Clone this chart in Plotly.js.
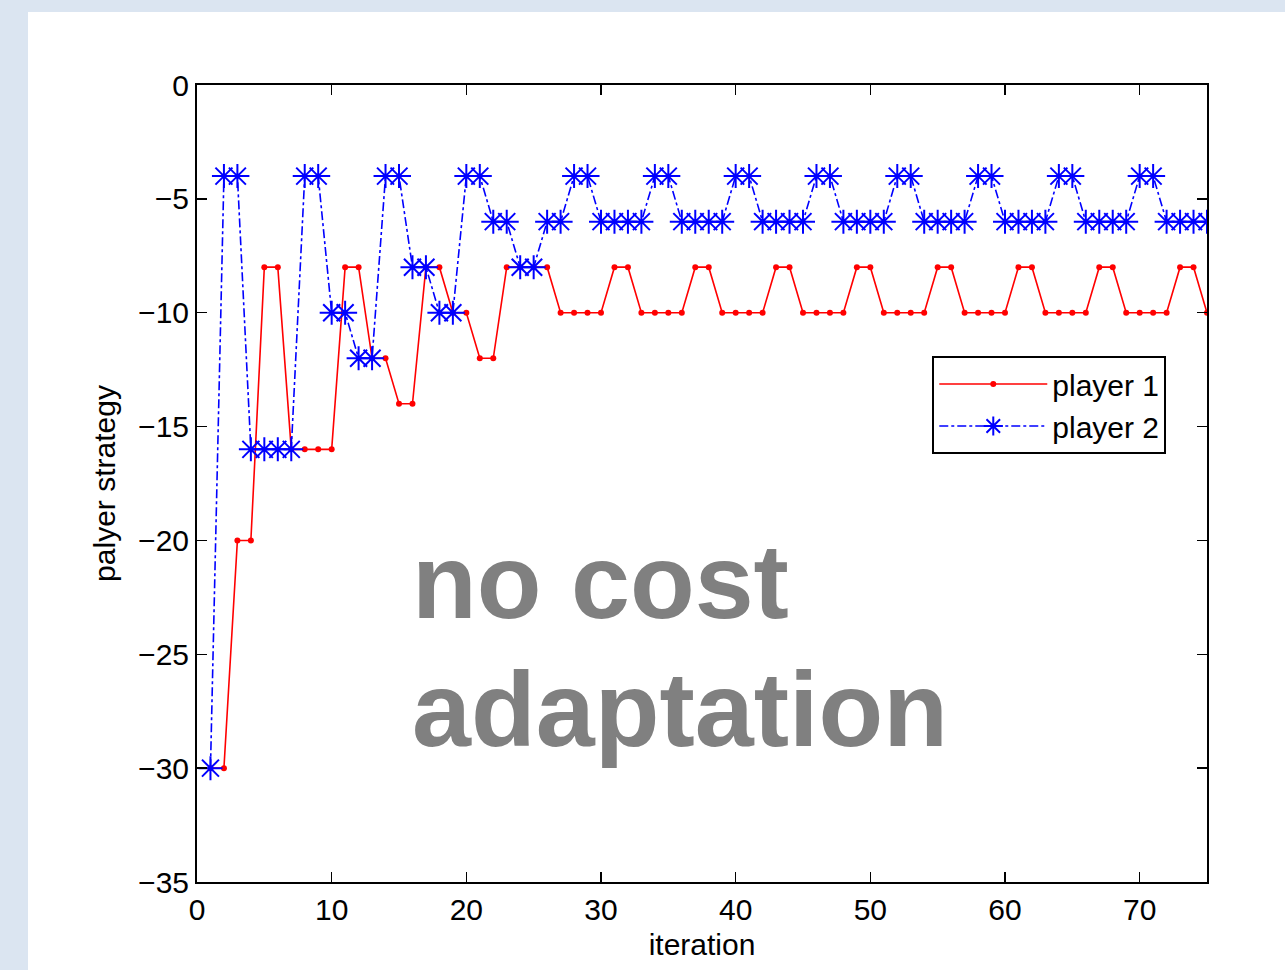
<!DOCTYPE html>
<html>
<head>
<meta charset="utf-8">
<script src="https://cdn.plot.ly/plotly-3.0.1.min.js"></script>
<style>
html,body{margin:0;padding:0;background:#dbe5f1;width:1285px;height:970px;overflow:hidden;}
#chart{position:absolute;left:28px;top:12px;width:1257px;height:958px;background:#fff;}
</style>
</head>
<body>
<div id="chart"></div>
<script>
const iterations = [1,2,3,4,5,6,7,8,9,10,11,12,13,14,15,16,17,18,19,20,21,22,23,24,25,26,27,28,29,30,31,32,33,34,35,36,37,38,39,40,41,42,43,44,45,46,47,48,49,50,51,52,53,54,55,56,57,58,59,60,61,62,63,64,65,66,67,68,69,70,71,72,73,74,75];
const player1 = [-30,-30,-20,-20,-8,-8,-16,-16,-16,-16,-8,-8,-12,-12,-14,-14,-8,-8,-10,-10,-12,-12,-8,-8,-8,-8,-10,-10,-10,-10,-8,-8,-10,-10,-10,-10,-8,-8,-10,-10,-10,-10,-8,-8,-10,-10,-10,-10,-8,-8,-10,-10,-10,-10,-8,-8,-10,-10,-10,-10,-8,-8,-10,-10,-10,-10,-8,-8,-10,-10,-10,-10,-8,-8,-10];
const player2 = [-30,-4,-4,-16,-16,-16,-16,-4,-4,-10,-10,-12,-12,-4,-4,-8,-8,-10,-10,-4,-4,-6,-6,-8,-8,-6,-6,-4,-4,-6,-6,-6,-6,-4,-4,-6,-6,-6,-6,-4,-4,-6,-6,-6,-6,-4,-4,-6,-6,-6,-6,-4,-4,-6,-6,-6,-6,-4,-4,-6,-6,-6,-6,-4,-4,-6,-6,-6,-6,-4,-4,-6,-6,-6,-6];
const seriesNames = ['player 1','player 2'];
const xTicks = [0,10,20,30,40,50,60,70];
const yTicks = [0,-5,-10,-15,-20,-25,-30,-35];
const overlayLines = ['no cost','adaptation'];
const xTitle = 'iteration';
const yTitle = 'palyer strategy';

const font = 'Liberation Sans, Arial, sans-serif';
const traces = [
  {x: iterations, y: player1, name: seriesNames[0], type: 'scatter', mode: 'lines+markers',
   line: {color: '#ff0000', width: 1.6}, marker: {color: '#ff0000', size: 6, symbol: 'circle'}},
  {x: iterations, y: player2, name: seriesNames[1], type: 'scatter', mode: 'lines+markers',
   line: {color: '#0000ff', width: 1.6, dash: 'dashdot'},
   marker: {color: '#0000ff', size: 20, symbol: 'asterisk-open', line: {color: '#0000ff', width: 2}}}
];
const axisCommon = {
  showline: true, linecolor: '#000', linewidth: 2, mirror: 'allticks',
  ticks: 'inside', ticklen: 10, tickwidth: 1.5, tickcolor: '#000',
  showgrid: false, zeroline: false,
  tickfont: {family: font, size: 30, color: '#000'}
};
const layout = {
  width: 1257, height: 958,
  margin: {l: 169, r: 78, t: 73, b: 88},
  paper_bgcolor: '#ffffff', plot_bgcolor: '#ffffff',
  font: {family: font, color: '#000'},
  showlegend: true,
  legend: {x: 0.728, y: 0.66, xanchor: 'left', yanchor: 'top', bgcolor: '#fff',
    bordercolor: '#000', borderwidth: 2, font: {family: font, size: 30, color: '#000'},
    itemwidth: 108, entrywidth: 248, entrywidthmode: 'pixels', tracegroupgap: 0},
  xaxis: Object.assign({}, axisCommon, {range: [0, 75], tickvals: xTicks, ticktext: xTicks.map(String),
    title: {text: xTitle, font: {family: font, size: 30, color: '#000'}, standoff: 9}}),
  yaxis: Object.assign({}, axisCommon, {range: [-35, 0], tickvals: yTicks,
    title: {text: yTitle, font: {family: font, size: 30, color: '#000'}, standoff: 14}}),
  annotations: [
    {x: 15.8, y: -21.8, xref: 'x', yref: 'y', xanchor: 'left', yanchor: 'middle', showarrow: false,
     text: '<b>' + overlayLines[0] + '</b>', font: {family: font, size: 106, color: '#808080'}},
    {x: 15.8, y: -27.4, xref: 'x', yref: 'y', xanchor: 'left', yanchor: 'middle', showarrow: false,
     text: '<b>' + overlayLines[1] + '</b>', font: {family: font, size: 106, color: '#808080'}}
  ]
};
Plotly.newPlot('chart', traces, layout, {displayModeBar: false, staticPlot: true});
</script>
</body>
</html>
